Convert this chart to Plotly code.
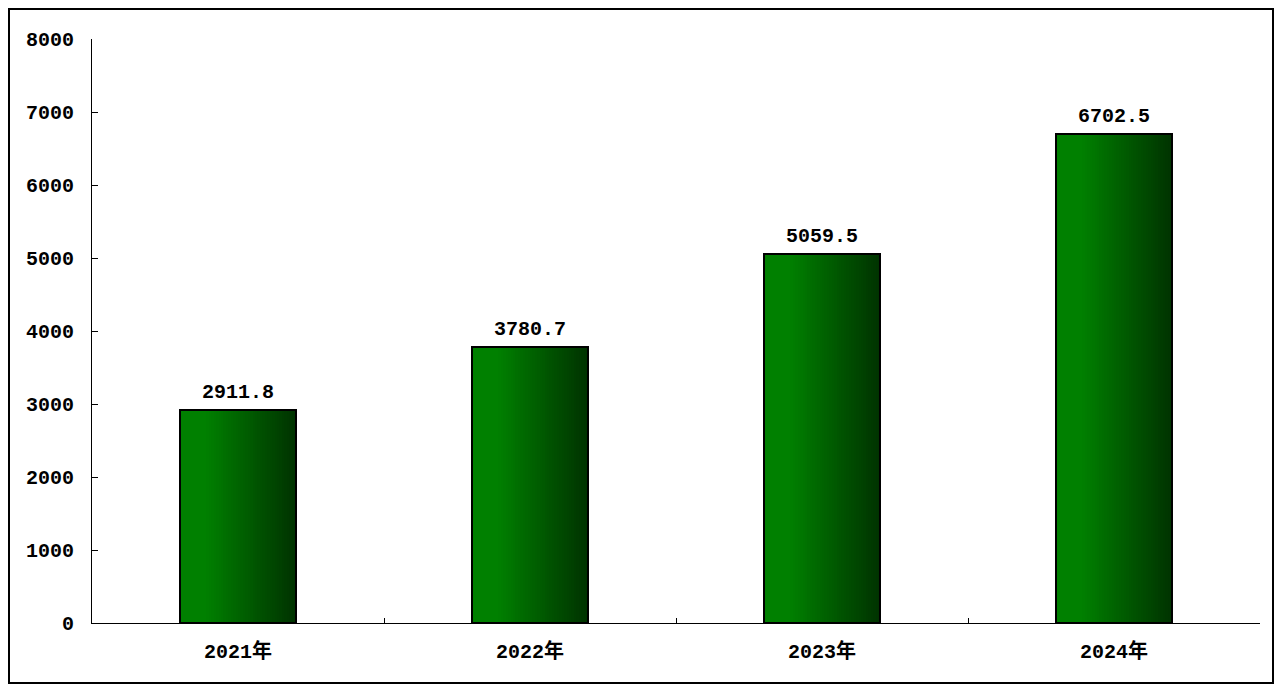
import plotly.graph_objects as go

categories = ["2021年", "2022年", "2023年", "2024年"]
values = [2911.8, 3780.7, 5059.5, 6702.5]
labels = ["2911.8", "3780.7", "5059.5", "6702.5"]
y_ticks = [0, 1000, 2000, 3000, 4000, 5000, 6000, 7000, 8000]

FONT = "Liberation Mono, Noto Sans CJK SC, monospace"
BAR_W = 0.4
N = 48

W, H = 1267, 677
L, T = 84, 31
PW, PH = 1168, 584

fig = go.Figure()

def green(t):
    f = max(0.0, (t - 0.22) / 0.78)
    g = 128 - 78 * f
    return f"rgb(0,{int(round(g))},0)"

for i in range(N):
    t = (i + 0.5) / N
    fig.add_trace(go.Bar(
        x=categories, y=values,
        width=BAR_W / N * 1.15,
        offset=-BAR_W / 2 + i * BAR_W / N,
        marker=dict(color=green(t), line=dict(width=0)),
        hoverinfo="skip", showlegend=False,
    ))

fig.add_trace(go.Bar(
    x=categories, y=values, width=BAR_W,
    marker=dict(color="rgba(0,0,0,0)", line=dict(color="black", width=2)),
    showlegend=False,
))

for c, v, lab in zip(categories, values, labels):
    fig.add_annotation(x=c, y=v, text=lab, showarrow=False, yanchor="bottom",
                       yshift=4, font=dict(family=FONT, size=20, color="black", weight="bold"))

fig.add_shape(type="rect", xref="paper", yref="paper",
              x0=(1 - L) / PW, x1=(W - 2 - L) / PW,
              y0=(T + PH - (H - 2)) / PH, y1=(T + PH - 1) / PH,
              line=dict(color="black", width=2), fillcolor="rgba(0,0,0,0)")

fig.update_layout(
    width=W, height=H,
    margin=dict(l=L, r=W - L - PW, t=T, b=H - T - PH, pad=0),
    paper_bgcolor="white", plot_bgcolor="white",
    barmode="overlay", bargap=0,
    font=dict(family=FONT, size=20, color="black", weight="bold"),
    xaxis=dict(type="category", showline=True, linecolor="black", linewidth=1,
               ticks="inside", ticklen=5, tickcolor="black", tickson="boundaries",
               showgrid=False, tickfont=dict(family=FONT, size=20, weight="bold"),
               ticklabelstandoff=10),
    yaxis=dict(range=[0, 8000], tickvals=y_ticks, showline=True, linecolor="black",
               linewidth=1, ticks="inside", ticklen=6, tickcolor="black",
               showgrid=False, zeroline=False,
               tickfont=dict(family=FONT, size=20, weight="bold"),
               ticklabelstandoff=13),
)

fig.write_html("out.html")
